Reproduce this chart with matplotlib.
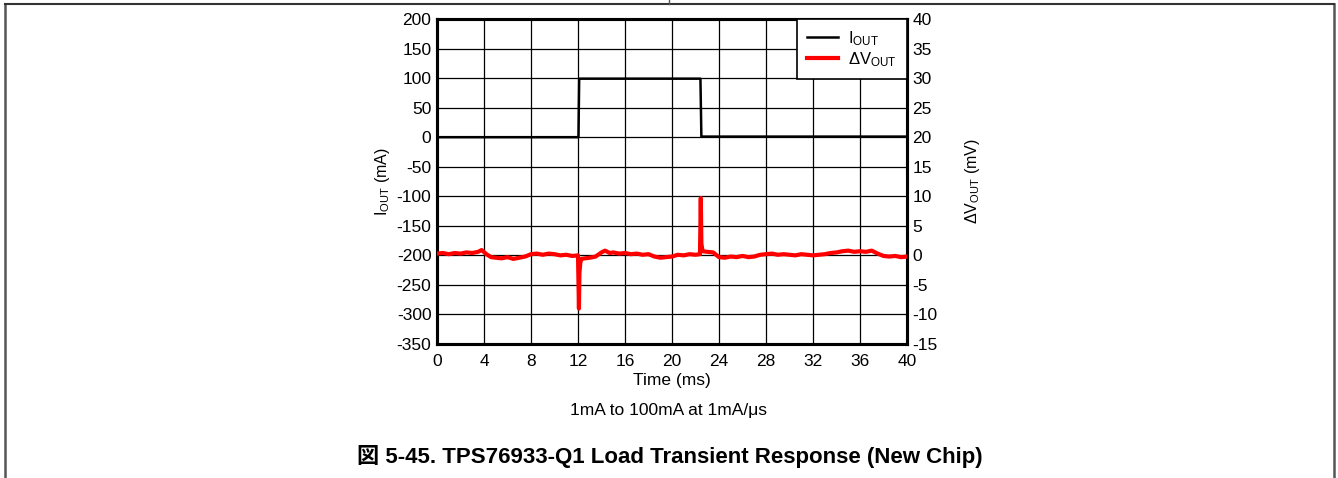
import matplotlib
matplotlib.use("Agg")
import matplotlib.pyplot as plt
from matplotlib.lines import Line2D

plt.rcParams['font.family'] = ['Liberation Sans', 'Noto Sans CJK JP', 'DejaVu Sans']
plt.rcParams['mathtext.fontset'] = 'custom'
plt.rcParams['mathtext.rm'] = 'Liberation Sans'
plt.rcParams['mathtext.it'] = 'Liberation Sans'

# ---- data ----
iout_time = [0, 12.04, 12.1, 22.42, 22.5, 40]
iout_ma = [0, 0, 99, 99, 1, 1]

dv_time = [0, 0.5, 1, 1.5, 2, 2.5, 3, 3.5,
           3.8, 4.2, 4.6, 5, 5.5, 6, 6.5, 7, 7.5, 8,
           8.5, 9, 9.5, 10, 10.5, 11, 11.5, 12.0,
           12.08, 12.12, 12.2, 12.3, 12.6, 13, 13.5, 14, 14.3, 14.7,
           15, 15.5, 16, 16.5, 17, 17.5, 18, 18.5, 19, 19.5,
           20, 20.5, 21, 21.5, 22, 22.38, 22.45, 22.5, 22.6, 23,
           23.5, 24, 24.5, 25, 25.5, 26, 26.5, 27, 27.5, 28,
           28.5, 29, 29.5, 30, 30.5, 31, 31.5, 32, 32.5, 33,
           33.5, 34, 34.5, 35, 35.5, 36, 36.5, 37, 37.5, 38,
           38.5, 39, 39.5, 40]
dv_mv = [0.3, 0.4, 0.2, 0.4, 0.3, 0.5, 0.4, 0.6,
         0.9, 0.2, -0.3, -0.4, -0.5, -0.3, -0.6, -0.4, -0.2, 0.2,
         0.3, 0.1, 0.3, 0.2, 0.0, 0.1, -0.1, 0.0,
         -9.0, -3.0, -1.2, -0.6, -0.5, -0.4, -0.2, 0.5, 0.8, 0.4,
         0.5, 0.3, 0.4, 0.2, 0.3, 0.1, 0.2, -0.2, -0.4, -0.3,
         -0.2, 0.1, 0.0, 0.2, 0.1, 0.2, 9.7, 2.0, 0.7, 0.6,
         0.5, -0.3, -0.4, -0.2, -0.3, -0.1, -0.3, -0.2, 0.1, 0.2,
         0.3, 0.1, 0.2, 0.1, 0.0, 0.2, 0.1, 0.0, 0.1, 0.2,
         0.4, 0.5, 0.7, 0.8, 0.6, 0.7, 0.6, 0.8, 0.3, -0.1,
         -0.2, -0.1, -0.3, -0.2]

x_ticks = list(range(0, 41, 4))
left_ticks = list(range(-350, 201, 50))
right_ticks = list(range(-15, 41, 5))

subtitle = "1mA to 100mA at 1mA/μs"
caption = "図 5-45. TPS76933-Q1 Load Transient Response (New Chip)"

# ---- figure ----
fig = plt.figure(figsize=(13.38, 4.78), dpi=100)
W, H = 1338, 478
ax = fig.add_axes([437 / W, 1 - 344 / H, 470 / W, 325 / H])
ax2 = ax.twinx()

ax.plot(iout_time, iout_ma, color='black', lw=1.8, label=r'I$_{\mathregular{OUT}}$', zorder=3)
ax2.plot(dv_time, dv_mv, color='#ff0000', lw=3.0, label=r'$\Delta$V$_{\mathregular{OUT}}$', zorder=3)

ax.set_xlim(0, 40)
ax.set_ylim(-350, 200)
ax2.set_ylim(-15, 40)
ax.set_xticks(x_ticks)
ax.set_yticks(left_ticks)
ax2.set_yticks(right_ticks)
ax.set_xticklabels([str(v) for v in x_ticks], fontsize=12.5)
ax.set_yticklabels([str(v) for v in left_ticks], fontsize=12.5)
ax2.set_yticklabels([str(v) for v in right_ticks], fontsize=12.5)
ax.tick_params(axis='y', length=0, pad=4)
ax.tick_params(axis='x', length=0, pad=7)
ax2.tick_params(length=0, pad=4)
ax.grid(True, color='black', lw=0.9)
ax.set_axisbelow(True)

for a in (ax, ax2):
    for s in a.spines.values():
        s.set_linewidth(2.2)
        s.set_color('black')

ax.set_xlabel('Time (ms)', fontsize=12.5, labelpad=3)
ax.set_ylabel(r'I$_{\mathregular{OUT}}$ (mA)', fontsize=11.5, labelpad=3)
ax2.set_ylabel(r'$\Delta$V$_{\mathregular{OUT}}$ (mV)', fontsize=11.5, labelpad=18)

h1, l1 = ax.get_legend_handles_labels()
h2, l2 = ax2.get_legend_handles_labels()
leg = ax2.legend(h1 + h2, l1 + l2, loc='upper right', fontsize=12, frameon=True,
                 fancybox=False, edgecolor='black', framealpha=1,
                 borderaxespad=0.0, handlelength=1.9, labelspacing=0.15,
                 borderpad=0.6, handletextpad=0.6)
leg.get_frame().set_linewidth(1.2)

fig.text(669 / W, 1 - 411 / H, subtitle, ha='center', va='center', fontsize=12.5)
fig.text(670 / W, 1 - 457 / H, caption, ha='center', va='center', fontsize=16,
         fontweight='bold')

# page frame lines
fig.add_artist(Line2D([4.5 / W, 4.5 / W], [0, 1 - 3.5 / H], transform=fig.transFigure,
                      color='#555555', lw=1.8))
fig.add_artist(Line2D([1334 / W, 1334 / W], [0, 1 - 3.5 / H], transform=fig.transFigure,
                      color='#555555', lw=1.8))
fig.add_artist(Line2D([4.5 / W, 1334 / W], [1 - 3.5 / H, 1 - 3.5 / H], transform=fig.transFigure,
                      color='#333333', lw=1.5))
fig.add_artist(Line2D([669 / W, 669 / W], [1 - 3.5 / H, 1], transform=fig.transFigure,
                      color='#555555', lw=1.0))

fig.savefig('out.png', dpi=100)
